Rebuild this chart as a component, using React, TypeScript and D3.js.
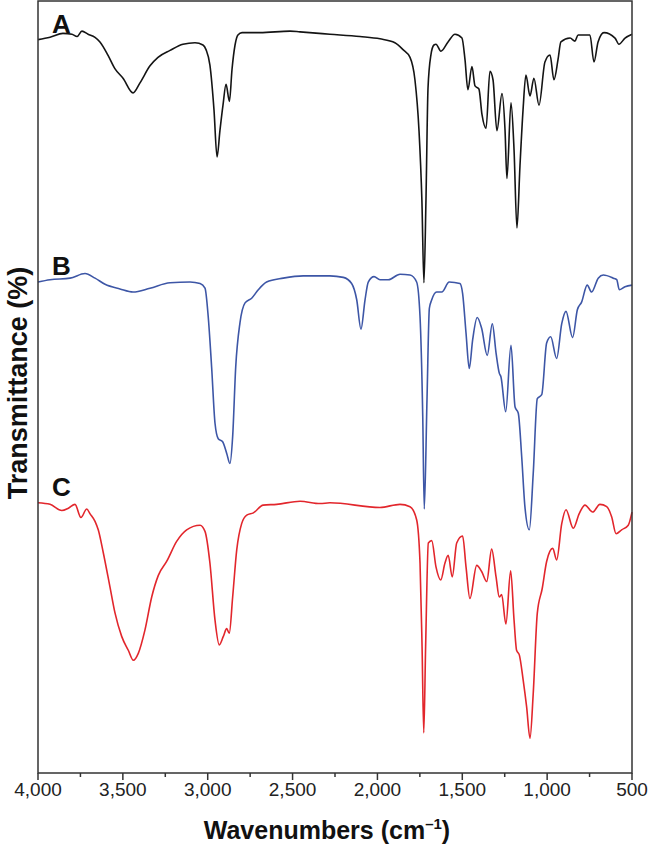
import React from "react";
import * as d3 from "d3";

// Wavenumber (cm-1) and transmittance (%, offset spectra)
const waveA = [4000,3929,3853,3800,3770,3741,3705,3664,3635,3588,3546,3499,3440,3399,3340,3293,3222,3146,3075,3028,3010,2987,2963,2945,2928,2910,2892,2872,2857,2839,2822,2798,2692,2515,2456,2280,2103,1985,1897,1849,1808,1779,1755,1738,1726,1714,1702,1685,1667,1655,1626,1584,1543,1502,1484,1467,1443,1425,1402,1384,1360,1337,1319,1296,1266,1248,1237,1213,1195,1178,1160,1142,1125,1101,1078,1048,1013,983,960,936,919,865,836,818,748,724,700,665,600,577,541,500];
const transA = [95.0,95.3,95.8,95.7,95.4,96.1,95.7,95.3,94.7,93.0,91.2,90.0,88.1,89.4,91.6,92.7,93.6,94.4,94.6,94.3,93.7,91.7,85.9,79.8,83.2,86.5,89.2,87.0,91.1,94.3,95.6,95.9,95.9,96.1,96.0,95.7,95.4,95.1,94.6,93.7,92.7,89.8,83.2,74.2,63.5,74.2,88.7,93.0,94.3,94.4,93.5,94.7,95.7,95.2,92.4,88.5,91.5,89.0,88.6,85.3,83.5,90.9,89.8,83.2,88.0,83.2,77.0,86.8,80.7,70.6,78.7,85.9,90.4,87.7,90.0,86.5,92.1,93.0,89.8,92.4,94.7,95.2,94.8,95.6,95.6,92.1,94.7,95.9,95.2,94.4,95.2,95.7];

const waveB = [4000,3929,3811,3723,3664,3605,3517,3440,3340,3222,3104,3045,3016,2997,2977,2957,2938,2912,2888,2869,2853,2835,2810,2780,2741,2702,2653,2555,2437,2280,2201,2152,2122,2097,2073,2054,2020,1985,1936,1867,1808,1769,1749,1733,1724,1708,1694,1680,1651,1621,1577,1514,1498,1478,1459,1439,1412,1386,1353,1323,1301,1282,1272,1244,1213,1189,1170,1150,1131,1105,1082,1058,1032,1003,979,944,914,889,850,822,797,764,738,699,669,610,590,575,541,500];
const transB = [63.6,63.9,64.1,64.7,64.1,63.3,62.7,62.3,62.8,63.5,63.6,63.4,62.8,59.1,52.6,45.3,43.3,42.9,41.4,40.1,43.6,52.6,58.3,60.9,61.5,62.6,63.6,64.1,64.4,64.4,64.2,63.4,61.3,57.5,61.3,63.6,64.3,63.9,63.9,64.6,64.5,63.6,59.1,46.2,34.2,48.3,60.2,61.3,62.3,62.3,63.6,63.4,62.1,57.0,52.4,56.1,59.0,57.6,54.1,58.2,54.4,51.8,51.3,46.8,55.4,47.4,46.6,41.0,34.5,31.5,38.8,48.5,49.0,55.7,56.5,53.7,58.2,59.8,56.4,60.0,61.0,63.2,62.3,64.1,64.5,64.1,63.9,62.6,63.0,63.2];

const waveC = [4000,3929,3860,3821,3782,3747,3713,3694,3664,3645,3615,3576,3546,3507,3468,3438,3409,3370,3330,3291,3242,3183,3124,3045,3016,2987,2957,2932,2908,2888,2873,2853,2829,2800,2770,2731,2673,2594,2456,2338,2280,1985,1867,1808,1769,1749,1737,1727,1716,1700,1680,1655,1627,1602,1583,1559,1533,1498,1478,1455,1415,1386,1356,1327,1301,1282,1268,1243,1215,1195,1180,1164,1141,1121,1101,1082,1058,1029,1003,967,944,914,889,846,811,777,732,689,649,620,594,561,522,500];
const transC = [35.0,34.8,34.0,34.3,34.8,33.1,34.2,33.6,32.6,31.5,28.5,24.1,20.7,17.7,15.9,14.6,15.5,18.5,22.8,25.6,27.4,30.0,31.5,32.1,31.3,27.2,19.8,16.6,17.7,18.7,18.1,22.8,28.9,32.3,33.4,33.7,34.7,34.8,35.2,34.9,35.0,34.4,34.8,34.5,32.8,27.2,16.4,5.2,16.4,29.8,30.1,26.7,25.0,27.2,28.2,25.4,29.8,30.7,26.7,22.6,26.9,26.1,24.8,29.0,25.4,22.8,23.1,19.3,26.2,19.8,15.9,15.3,12.0,8.6,4.5,10.3,20.7,23.9,27.4,29.1,27.6,32.3,34.1,31.7,33.6,34.7,33.8,34.8,34.5,33.2,31.0,31.5,32.1,33.8];

const seriesNames = ["A", "B", "C"];
const seriesColors = ["#141414", "#3d56a6", "#e2262c"];
const xTicks = [4000, 3500, 3000, 2500, 2000, 1500, 1000, 500];
const xMinorTicks = [3750, 3250, 2750, 2250, 1750, 1250, 750];

export default function App() {
  const W = 651, H = 848;
  const left = 38, right = 632, top = 1, bottom = 773;
  const x = d3.scaleLinear().domain([4000, 500]).range([left, right]);
  const y = d3.scaleLinear().domain([0, 100]).range([bottom, top]);
  const line = d3
    .line<[number, number]>()
    .x((d) => x(d[0]))
    .y((d) => y(d[1]))
    .curve(d3.curveMonotoneX);

  const series = [
    { name: seriesNames[0], color: seriesColors[0], data: waveA.map((w, i) => [w, transA[i]] as [number, number]), labelY: transA[0] },
    { name: seriesNames[1], color: seriesColors[1], data: waveB.map((w, i) => [w, transB[i]] as [number, number]), labelY: transB[0] },
    { name: seriesNames[2], color: seriesColors[2], data: waveC.map((w, i) => [w, transC[i]] as [number, number]), labelY: transC[0] },
  ];
  const fmt = d3.format(",");
  const font = "Liberation Sans, Arial, Helvetica, sans-serif";
  const axisColor = "#333";

  return (
    <svg width={W} height={H} style={{ position: "absolute", left: 0, top: 0 }} fontFamily={font}>
      <rect x={0} y={0} width={W} height={H} fill="#fff" />
      {series.map((s) => (
        <path key={s.name} d={line(s.data) || ""} fill="none" stroke={s.color} strokeWidth={1.6} strokeLinejoin="round" />
      ))}
      {/* frame */}
      <rect x={left} y={top} width={right - left} height={bottom - top} fill="none" stroke={axisColor} strokeWidth={1.5} />
      {xTicks.map((t) => (
        <g key={t}>
          <line x1={x(t)} x2={x(t)} y1={bottom} y2={bottom + 7} stroke={axisColor} strokeWidth={1.5} />
          <text x={x(t)} y={bottom + 23} textAnchor="middle" fontSize={19} fill="#222">{fmt(t)}</text>
        </g>
      ))}
      {xMinorTicks.map((t) => (
        <line key={t} x1={x(t)} x2={x(t)} y1={bottom} y2={bottom + 4} stroke={axisColor} strokeWidth={1.5} />
      ))}
      {series.map((s) => (
        <text key={"l" + s.name} x={52} y={y(s.labelY) - 7} fontSize={26} fontWeight="bold" fill="#111">{s.name}</text>
      ))}
      <text x={(left + right) / 2 - 8} y={839} textAnchor="middle" fontSize={25} fontWeight="bold" fill="#111">
        Wavenumbers (cm<tspan fontSize={15} dy={-10}>–1</tspan><tspan dy={10}>)</tspan>
      </text>
      <text transform={`translate(27, ${(top + bottom) / 2 - 4}) rotate(-90)`} textAnchor="middle" fontSize={27} fontWeight="bold" fill="#111">
        Transmittance (%)
      </text>
    </svg>
  );
}
